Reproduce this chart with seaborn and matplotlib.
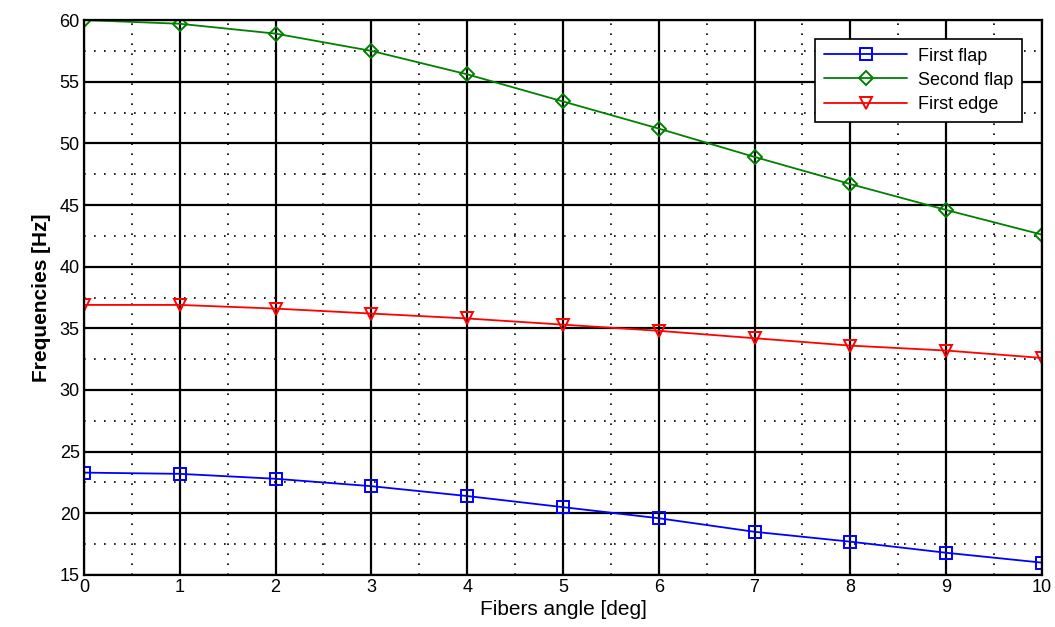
import numpy as np
import pandas as pd
import matplotlib
matplotlib.use("Agg")
import matplotlib.pyplot as plt
import seaborn as sns
from matplotlib.ticker import MultipleLocator
from matplotlib import font_manager

angles = [0, 1, 2, 3, 4, 5, 6, 7, 8, 9, 10]
first_flap = [23.3, 23.2, 22.8, 22.2, 21.4, 20.5, 19.6, 18.5, 17.7, 16.8, 16.0]
second_flap = [60.0, 59.7, 58.9, 57.5, 55.6, 53.4, 51.2, 48.9, 46.7, 44.6, 42.6]
first_edge = [36.9, 36.9, 36.6, 36.2, 35.8, 35.3, 34.8, 34.2, 33.6, 33.2, 32.6]
series_names = ["First flap", "Second flap", "First edge"]
series_colors = ["#0000ff", "#008000", "#ff0000"]
series_markers = ["s", "D", "v"]

sns.set_style("white")
installed = {f.name for f in font_manager.fontManager.ttflist}
fam = "Liberation Sans Narrow" if "Liberation Sans Narrow" in installed else "Liberation Sans"
plt.rcParams['font.family'] = [fam, 'DejaVu Sans']
plt.rcParams['text.color'] = 'black'
plt.rcParams['axes.labelcolor'] = 'black'
plt.rcParams['xtick.color'] = 'black'
plt.rcParams['ytick.color'] = 'black'

df = pd.DataFrame({
    "angle": angles * 3,
    "freq": first_flap + second_flap + first_edge,
    "series": sum([[n] * len(angles) for n in series_names], []),
})

fig = plt.figure(figsize=(10.55, 6.27), dpi=100)
ax = fig.add_axes([0.0796, 0.083, 0.908, 0.885])

for name, col, mk in zip(series_names, series_colors, series_markers):
    sub = df[df["series"] == name]
    ms = 9 if mk == "s" else (7 if mk == "D" else 8)
    sns.lineplot(data=sub, x="angle", y="freq", ax=ax, color=col, marker=mk,
                 markersize=ms, markerfacecolor="none", markeredgecolor=col,
                 markeredgewidth=1.4, linewidth=1.3, label=name)

ax.set_xlim(0, 10)
ax.set_ylim(15, 60)
ax.xaxis.set_major_locator(MultipleLocator(1))
ax.yaxis.set_major_locator(MultipleLocator(5))
ax.xaxis.set_minor_locator(MultipleLocator(0.5))
ax.yaxis.set_minor_locator(MultipleLocator(2.5))
ax.grid(which="major", color="black", linewidth=1.6, linestyle="-")
ax.grid(which="minor", color="black", linewidth=1.2, linestyle=(0, (1, 5)))
ax.set_axisbelow(True)
for s in ax.spines.values():
    s.set_color("black")
    s.set_linewidth(1.6)
ax.tick_params(axis="both", which="major", labelsize=13, length=0, pad=3)
ax.tick_params(axis="both", which="minor", length=0)

ax.set_xlabel("Fibers angle [deg]", fontsize=15, labelpad=3)
ax.set_ylabel("Frequencies [Hz]", fontsize=15, fontweight="bold", labelpad=6)

leg = ax.legend(loc="upper right", bbox_to_anchor=(0.989, 0.983), fontsize=13,
                frameon=True, fancybox=False, edgecolor="black", framealpha=1,
                handlelength=4.6, borderpad=0.5, labelspacing=0.4, handletextpad=0.6)
leg.get_frame().set_linewidth(1.2)

fig.savefig("out.png", dpi=100)
